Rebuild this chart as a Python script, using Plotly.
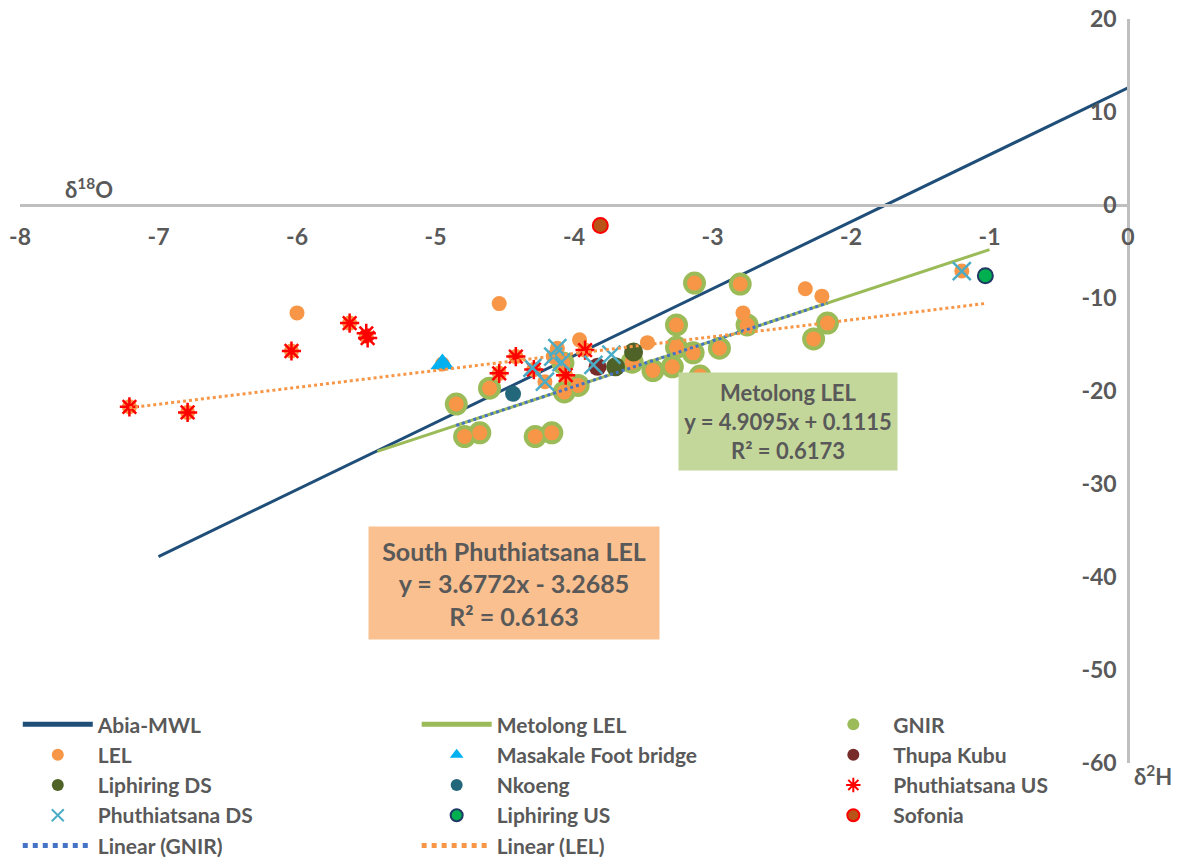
import numpy as np
import plotly.graph_objects as go

# ---- isotope data: x = δ18O, y = δ2H (‰) ----
gnir_x = [-4.85, -4.79, -4.68, -4.61, -4.28, -4.16, -4.07, -3.97, -4.08, -3.58, -3.43,
          -3.29, -3.26, -3.14, -3.09, -2.95, -3.26, -3.13, -2.80, -2.75, -2.27, -2.17]
gnir_y = [-21.4, -24.9, -24.5, -19.7, -24.9, -24.5, -20.1, -19.4, -17.0, -16.9, -17.8,
          -17.4, -15.3, -15.9, -18.4, -15.4, -12.9, -8.4, -8.5, -12.9, -14.4, -12.7]

lel_x = [-4.85, -4.79, -4.68, -4.61, -4.28, -4.16, -4.07, -3.97, -4.08, -3.58, -3.43,
         -3.29, -3.26, -3.14, -3.09, -2.95, -3.26, -3.13, -2.80, -2.75, -2.27, -2.17,
         -6.00, -4.54, -3.96, -3.47, -2.78, -2.33, -2.21, -4.95, -1.20, -1.03,
         -7.21, -6.79, -6.04, -5.62, -5.50, -4.54, -4.42, -4.29, -4.06, -3.92,
         -4.21, -4.12, -4.15]
lel_y = [-21.4, -24.9, -24.5, -19.7, -24.9, -24.5, -20.1, -19.4, -17.0, -16.9, -17.8,
         -17.4, -15.3, -15.9, -18.4, -15.4, -12.9, -8.4, -8.5, -12.9, -14.4, -12.7,
         -11.6, -10.6, -14.5, -14.8, -11.6, -9.0, -9.8, -17.1, -7.1, -7.6,
         -21.7, -22.3, -15.7, -12.7, -14.1, -18.1, -16.3, -17.7, -18.3, -15.6,
         -19.0, -15.4, -16.3]

masakale_x, masakale_y = [-4.95], [-17.1]
thupa_x, thupa_y = [-3.83], [-17.4]
liph_ds_x, liph_ds_y = [-3.70, -3.57], [-17.4, -15.8]
nkoeng_x, nkoeng_y = [-4.44], [-20.3]
phu_us_x = [-7.21, -6.79, -6.04, -5.62, -5.50, -5.49, -4.54, -4.42, -4.29, -4.06, -3.92]
phu_us_y = [-21.7, -22.3, -15.7, -12.7, -13.8, -14.3, -18.1, -16.3, -17.7, -18.3, -15.6]
phu_ds_x = [-4.30, -4.21, -4.12, -4.15, -4.09, -3.86, -3.73, -1.20]
phu_ds_y = [-17.5, -19.0, -15.4, -16.3, -16.9, -17.2, -16.1, -7.1]
liph_us_x, liph_us_y = [-1.03], [-7.6]
sofonia_x, sofonia_y = [-3.81], [-2.2]

# reference / regression lines
abia_x = [-7.0, 0.0]
abia_y = [-37.8, 12.6]
metolong_slope, metolong_intercept = 4.9095, 0.1115
metolong_x = [-5.42, -1.0]
lel_slope, lel_intercept = 1.815, -8.72

x_ticks = [-8, -7, -6, -5, -4, -3, -2, -1, 0]
y_ticks = [20, 10, 0, -10, -20, -30, -40, -50, -60]

FONT = "Lato"
GREY = "#595959"

fig = go.Figure()

fig.add_trace(go.Scatter(x=abia_x, y=abia_y, mode="lines", name="Abia-MWL",
                         line=dict(color="#1F4E79", width=3), legend="legend"))
mx = np.array(metolong_x)
fig.add_trace(go.Scatter(x=mx, y=metolong_slope * mx + metolong_intercept, mode="lines",
                         name="Metolong LEL", line=dict(color="#9BBB59", width=3),
                         legend="legend2"))
fig.add_trace(go.Scatter(x=gnir_x, y=gnir_y, mode="markers", name="GNIR",
                         marker=dict(color="#9BBB59", size=23), legend="legend3"))
fig.add_trace(go.Scatter(x=lel_x, y=lel_y, mode="markers", name="LEL",
                         marker=dict(color="#F79646", size=15), legend="legend"))
fig.add_trace(go.Scatter(x=masakale_x, y=masakale_y, mode="markers", name="Masakale Foot bridge",
                         marker=dict(color="#00B0F0", size=21, symbol="triangle-up"),
                         legend="legend2"))
fig.add_trace(go.Scatter(x=thupa_x, y=thupa_y, mode="markers", name="Thupa Kubu",
                         marker=dict(color="#772C2A", size=18), legend="legend3"))
fig.add_trace(go.Scatter(x=liph_ds_x, y=liph_ds_y, mode="markers", name="Liphiring DS",
                         marker=dict(color="#4F6228", size=19), legend="legend"))
fig.add_trace(go.Scatter(x=nkoeng_x, y=nkoeng_y, mode="markers", name="Nkoeng",
                         marker=dict(color="#23687A", size=16), legend="legend2"))
fig.add_trace(go.Scatter(x=phu_us_x, y=phu_us_y, mode="markers", name="Phuthiatsana US",
                         marker=dict(color="#FF0000", size=16, symbol="asterisk-open",
                                     line=dict(color="#FF0000", width=2.5)),
                         legend="legend3"))
fig.add_trace(go.Scatter(x=phu_ds_x, y=phu_ds_y, mode="markers", name="Phuthiatsana DS",
                         marker=dict(color="#4BACC6", size=18, symbol="x-thin-open",
                                     line=dict(color="#4BACC6", width=2.5)),
                         legend="legend"))
fig.add_trace(go.Scatter(x=liph_us_x, y=liph_us_y, mode="markers", name="Liphiring US",
                         marker=dict(color="#00B050", size=15,
                                     line=dict(color="#1F3864", width=2)),
                         legend="legend2"))
fig.add_trace(go.Scatter(x=sofonia_x, y=sofonia_y, mode="markers", name="Sofonia",
                         marker=dict(color="#B85418", size=15,
                                     line=dict(color="#FF0000", width=2)),
                         legend="legend3"))

gx = np.array([min(gnir_x), max(gnir_x)])
fig.add_trace(go.Scatter(x=gx, y=metolong_slope * gx + metolong_intercept, mode="lines",
                         name="Linear (GNIR)", line=dict(color="#4472C4", width=3, dash="dot"),
                         legend="legend"))
lx = np.array([min(lel_x), max(lel_x)])
fig.add_trace(go.Scatter(x=lx, y=lel_slope * lx + lel_intercept, mode="lines",
                         name="Linear (LEL)", line=dict(color="#F79646", width=3, dash="dot"),
                         legend="legend2"))

legend_common = dict(yanchor="top", xanchor="left", bgcolor="rgba(0,0,0,0)",
                     font=dict(family=FONT, size=21, color=GREY, weight="bold"),
                     itemwidth=70, itemsizing="constant", tracegroupgap=0)
legend_y = 0.079

fig.update_layout(
    width=1180, height=859,
    margin=dict(l=20, r=52, t=19, b=96, autoexpand=False),
    paper_bgcolor="white", plot_bgcolor="white",
    font=dict(family=FONT, color=GREY),
    legend=dict(x=-0.002, y=legend_y, **legend_common),
    legend2=dict(x=0.358, y=legend_y, **legend_common),
    legend3=dict(x=0.716, y=legend_y, **legend_common),
    xaxis=dict(range=[-8, 0], anchor="free", position=0.75, side="bottom",
               showline=True, linecolor="#BFBFBF", linewidth=2.5, automargin=False,
               showgrid=False, zeroline=False, ticks="",
               tickvals=x_ticks, ticktext=[str(v) for v in x_ticks],
               tickfont=dict(family=FONT, size=23, color=GREY, weight="bold"),
               ticklabelstandoff=11),
    yaxis=dict(range=[-60, 20], anchor="free", position=1.0, side="left",
               showline=True, linecolor="#BFBFBF", linewidth=2.5, automargin=False,
               showgrid=False, zeroline=False, ticks="",
               tickvals=y_ticks, ticktext=[str(v) for v in y_ticks],
               tickfont=dict(family=FONT, size=23, color=GREY, weight="bold"),
               ticklabelstandoff=6),
)

annotations = [
    dict(x=-7.5, y=1.8, text="δ<sup>18</sup>O", showarrow=False,
         font=dict(family=FONT, size=22, color=GREY, weight="bold")),
    # δ2H axis title sits just below the foot of the vertical axis
    dict(x=0, xref="x", y=0, yref="paper", xanchor="left", yanchor="middle",
         xshift=4, yshift=-12, text="δ<sup>2</sup>H", showarrow=False,
         font=dict(family=FONT, size=22, color=GREY, weight="bold")),
    dict(x=-2.455, y=-23.3, text="Metolong LEL<br>y = 4.9095x + 0.1115<br>R² = 0.6173",
         showarrow=False, width=216, height=95, bgcolor="#C4D79B", align="center",
         font=dict(family=FONT, size=22, color=GREY, weight="bold")),
    dict(x=-4.433, y=-40.6,
         text="South Phuthiatsana LEL<br>y = 3.6772x - 3.2685<br>R² = 0.6163",
         showarrow=False, width=288, height=110, bgcolor="#FAC090", align="center",
         font=dict(family=FONT, size=25, color=GREY, weight="bold")),
]
fig.update_layout(annotations=annotations)

fig.write_html("out.html")
